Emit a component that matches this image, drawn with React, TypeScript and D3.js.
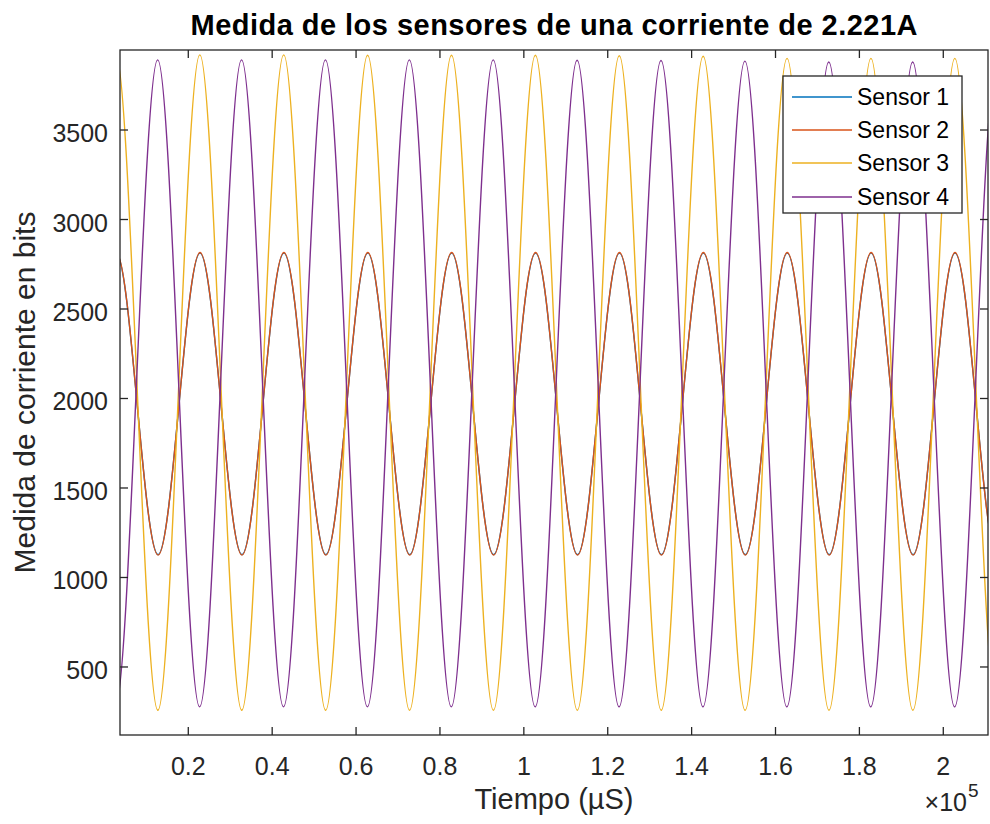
import React from 'react';
import * as d3 from 'd3';

// ---- Data ----
const title = 'Medida de los sensores de una corriente de 2.221A';
const xLabel = 'Tiempo (µS)';
const yLabel = 'Medida de corriente en bits';
const seriesNames = ['Sensor 1', 'Sensor 2', 'Sensor 3', 'Sensor 4'];
const seriesColors = ['#0072BD', '#D95319', '#EDB120', '#7E2F8E'];

const xDomain = [3720, 210660]; // µS
const yDomain = [120, 3947];
const xTickValues = [0.2, 0.4, 0.6, 0.8, 1, 1.2, 1.4, 1.6, 1.8, 2]; // ×10^5
const yTickValues = [500, 1000, 1500, 2000, 2500, 3000, 3500];

// extrema (peaks / troughs) of each sensor, time in µS
const sensor1Times = [-7200, 2800, 12800, 22800, 32800, 42800, 52800, 62800, 72800, 82800, 92800, 102800, 112800, 122800, 132800, 142800, 152800, 162800, 172800, 182800, 192800, 202800, 212800, 222800];
const sensor1Values = [1128, 2812, 1128, 2812, 1128, 2812, 1128, 2812, 1128, 2812, 1128, 2812, 1128, 2812, 1128, 2812, 1128, 2812, 1128, 2812, 1128, 2812, 1128, 2812];

const sensor2Times = [-7200, 2800, 12800, 22800, 32800, 42800, 52800, 62800, 72800, 82800, 92800, 102800, 112800, 122800, 132800, 142800, 152800, 162800, 172800, 182800, 192800, 202800, 212800, 222800];
const sensor2Values = [1125, 2816, 1125, 2816, 1125, 2816, 1125, 2816, 1125, 2816, 1125, 2816, 1125, 2816, 1125, 2816, 1125, 2816, 1125, 2816, 1125, 2816, 1125, 2816];

const sensor3Times = [-7250, 2750, 12750, 22750, 32750, 42750, 52750, 62750, 72750, 82750, 92750, 102750, 112750, 122750, 132750, 142750, 152750, 162750, 172750, 182750, 192750, 202750, 212750, 222750];
const sensor3Values = [258, 3920, 258, 3920, 258, 3920, 258, 3918, 258, 3918, 258, 3918, 258, 3915, 258, 3912, 258, 3900, 258, 3900, 258, 3900, 258, 3900];

const sensor4Times = [-7400, 2600, 12700, 22700, 32700, 42700, 52700, 62700, 72700, 82700, 92700, 102700, 112700, 122700, 132700, 142700, 152700, 162700, 172700, 182700, 192700, 202700, 212700, 222700];
const sensor4Values = [3892, 277, 3892, 277, 3892, 277, 3892, 277, 3892, 277, 3892, 277, 3890, 277, 3888, 277, 3885, 277, 3880, 277, 3880, 277, 3880, 277];

const FONT = '"Liberation Sans", Arial, Helvetica, sans-serif';
const AXC = '#262626';

export default function App() {
  const L = 120, R = 988, T = 50, B = 735;
  const x = d3.scaleLinear().domain(xDomain).range([L, R]);
  const y = d3.scaleLinear().domain(yDomain).range([B, T]);

  const series = [
    { t: sensor1Times, v: sensor1Values },
    { t: sensor2Times, v: sensor2Values },
    { t: sensor3Times, v: sensor3Values },
    { t: sensor4Times, v: sensor4Values },
  ];

  const line = d3
    .line<[number, number]>()
    .x((d) => x(d[0]))
    .y((d) => y(d[1]))
    .curve(d3.curveMonotoneX);

  const tickLen = 8;
  const legX = 783, legY = 76, legW = 179, legH = 137;
  const legRowY = [97, 130, 163, 197];

  return (
    <svg
      width={990}
      height={824}
      style={{ position: 'absolute', left: 0, top: 0, background: '#fff' }}
      fontFamily={FONT}
    >
      <defs>
        <clipPath id="plotClip">
          <rect x={L} y={T} width={R - L} height={B - T} />
        </clipPath>
      </defs>
      <rect x={0} y={0} width={990} height={824} fill="#fff" />

      {/* series */}
      <g clipPath="url(#plotClip)">
        {series.map((s, i) => (
          <path
            key={i}
            d={line(s.t.map((t, j) => [t, s.v[j]] as [number, number])) || ''}
            fill="none"
            stroke={seriesColors[i]}
            strokeWidth={1.4}
          />
        ))}
      </g>

      {/* axes box */}
      <rect x={L} y={T} width={R - L} height={B - T} fill="none" stroke={AXC} strokeWidth={1.3} />

      {/* x ticks */}
      {xTickValues.map((v) => {
        const px = x(v * 1e5);
        return (
          <g key={'x' + v}>
            <line x1={px} x2={px} y1={B} y2={B - tickLen} stroke={AXC} strokeWidth={1.3} />
            <line x1={px} x2={px} y1={T} y2={T + tickLen} stroke={AXC} strokeWidth={1.3} />
            <text x={px} y={775} textAnchor="middle" fontSize={25} fill={AXC}>
              {String(v)}
            </text>
          </g>
        );
      })}

      {/* y ticks */}
      {yTickValues.map((v) => {
        const py = y(v);
        return (
          <g key={'y' + v}>
            <line x1={L} x2={L + tickLen} y1={py} y2={py} stroke={AXC} strokeWidth={1.3} />
            <line x1={R} x2={R - tickLen} y1={py} y2={py} stroke={AXC} strokeWidth={1.3} />
            <text x={108} y={py + 12} textAnchor="end" fontSize={25} fill={AXC}>
              {String(v)}
            </text>
          </g>
        );
      })}

      {/* exponent */}
      <text x={967} y={811} textAnchor="end" fontSize={25} fill={AXC}>
        ×10
      </text>
      <text x={968} y={797} fontSize={19} fill={AXC}>
        5
      </text>

      {/* labels */}
      <text x={(L + R) / 2} y={809} textAnchor="middle" fontSize={29} fill={AXC}>
        {xLabel}
      </text>
      <text
        transform={`translate(35, ${(T + B) / 2}) rotate(-90)`}
        textAnchor="middle"
        fontSize={30}
        fill={AXC}
      >
        {yLabel}
      </text>
      <text
        x={(L + R) / 2}
        y={35}
        textAnchor="middle"
        fontSize={29}
        fontWeight="bold"
        fill="#000"
        textLength={727}
        lengthAdjust="spacing"
      >
        {title}
      </text>

      {/* legend */}
      <rect x={legX} y={legY} width={legW} height={legH} fill="#fff" stroke={AXC} strokeWidth={1.3} />
      {seriesNames.map((n, i) => (
        <g key={n}>
          <line x1={792} x2={852} y1={legRowY[i]} y2={legRowY[i]} stroke={seriesColors[i]} strokeWidth={1.4} />
          <text x={857} y={legRowY[i] + 8} fontSize={23} fill="#000">
            {n}
          </text>
        </g>
      ))}
    </svg>
  );
}
